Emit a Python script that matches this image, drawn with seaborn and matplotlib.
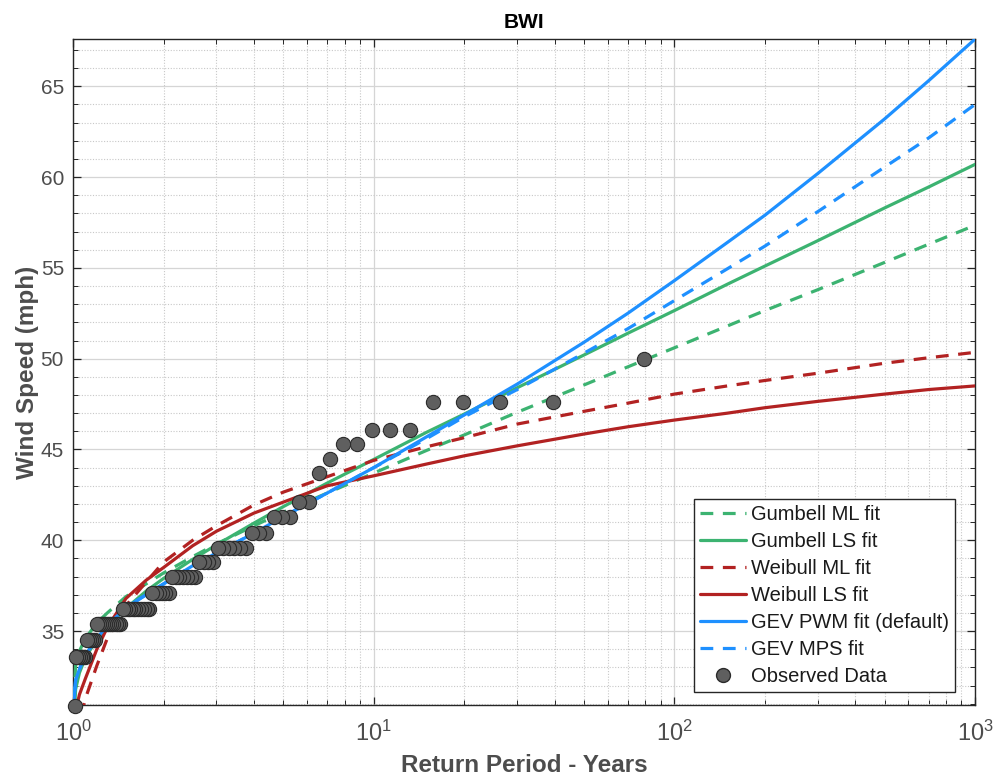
import numpy as np
import pandas as pd
import matplotlib
matplotlib.use("Agg")
import matplotlib.pyplot as plt
import seaborn as sns
from matplotlib.ticker import LogLocator, MultipleLocator, FuncFormatter, NullFormatter
from matplotlib.lines import Line2D

# Observed annual maxima at BWI: distinct speeds (mph) and number of years at each
obs_speed = [50.0, 47.6, 46.1, 45.3, 44.5, 43.7, 42.1, 41.3, 40.4, 39.6,
             38.8, 38.0, 37.1, 36.2, 35.4, 34.5, 33.6, 30.9]
obs_count = [1, 4, 3, 2, 1, 1, 2, 3, 3, 6, 4, 7, 6, 11, 12, 5, 6, 1]

# Fitted curves at these return periods (years)
return_period = [1.0, 1.02, 1.05, 1.1, 1.2, 1.3, 1.5, 1.75, 2, 2.5, 3, 4, 5, 7,
                 10, 15, 20, 30, 50, 70, 100, 150, 200, 300, 500, 700, 1000]
gumbel_ml = [30.0, 33.15, 33.9, 34.6, 35.45, 36.0, 36.9, 37.6, 38.2, 39.1, 39.8,
             40.8, 41.55, 42.6, 43.7, 44.95, 45.8, 47.05, 48.55, 49.55, 50.6,
             51.8, 52.65, 53.8, 55.3, 56.3, 57.35]
gumbel_ls = [29.0, 31.8, 32.7, 33.55, 34.55, 35.25, 36.25, 37.2, 37.9, 38.95, 39.75,
             40.95, 41.85, 43.15, 44.45, 45.95, 46.95, 48.4, 50.2, 51.4, 52.65,
             54.1, 55.1, 56.5, 58.3, 59.45, 60.7]
weibull_ml = [26.0, 28.5, 30.0, 31.3, 33.1, 34.6, 36.4, 37.7, 38.8, 40.0, 40.8,
              41.95, 42.65, 43.5, 44.4, 45.15, 45.65, 46.4, 47.1, 47.55, 48.05,
              48.5, 48.8, 49.2, 49.75, 50.05, 50.35]
weibull_ls = [29.5, 30.6, 31.5, 32.4, 34.0, 35.2, 36.8, 37.8, 38.5, 39.7, 40.5,
              41.5, 42.1, 43.0, 43.55, 44.2, 44.65, 45.2, 45.85, 46.25, 46.62,
              47.0, 47.3, 47.65, 48.05, 48.3, 48.5]
gev_pwm = [30.5, 32.3, 32.9, 33.7, 34.6, 35.3, 36.3, 37.0, 37.6, 38.6, 39.3,
           40.4, 41.3, 42.6, 44.0, 45.7, 46.9, 48.6, 50.9, 52.5, 54.3,
           56.4, 57.9, 60.2, 63.2, 65.3, 67.6]
gev_mps = [30.5, 32.3, 32.9, 33.7, 34.6, 35.3, 36.3, 37.0, 37.6, 38.6, 39.3,
           40.4, 41.3, 42.6, 44.0, 45.6, 46.8, 48.3, 50.3, 51.65, 53.2,
           54.95, 56.2, 58.1, 60.55, 62.15, 64.0]

fit_labels = ["Gumbell ML fit", "Gumbell LS fit", "Weibull ML fit", "Weibull LS fit",
              "GEV PWM fit (default)", "GEV MPS fit"]

# Weibull plotting positions for the observed data
speeds = np.repeat(obs_speed, obs_count)
n = len(speeds)
obs = pd.DataFrame({"T": (n + 1) / np.arange(1, n + 1), "speed": speeds})

sns.set_theme(style="ticks")
plt.rcParams["font.family"] = ["Liberation Sans", "DejaVu Sans"]
plt.rcParams["mathtext.fontset"] = "custom"
plt.rcParams["mathtext.rm"] = "Liberation Sans"

green = "#3cb371"
red = "#b22222"
blue = "#1e90ff"
dash = (4, 3)

fig = plt.figure(figsize=(9.95, 7.81), dpi=100)
ax = fig.add_axes([0.0734, 0.0973, 0.9066, 0.8527])

curves = [
    (gumbel_ml, green, True),
    (gumbel_ls, green, False),
    (weibull_ml, red, True),
    (weibull_ls, red, False),
    (gev_pwm, blue, False),
    (gev_mps, blue, True),
]
handles = []
for vals, col, dashed in curves:
    sns.lineplot(x=return_period, y=vals, ax=ax, color=col, linewidth=2.3,
                 sort=False, zorder=3)
    line = ax.get_lines()[-1]
    h = Line2D([], [], color=col, linewidth=2.3)
    if dashed:
        line.set_dashes(dash)
        h.set_dashes(dash)
    handles.append(h)

sns.scatterplot(data=obs, x="T", y="speed", ax=ax, s=105, color="#5f5f5f",
                edgecolor="#2b2b2b", linewidth=0.8, zorder=5, clip_on=False)
handles.append(Line2D([], [], linestyle="none", marker="o", markersize=10,
                      markerfacecolor="#5f5f5f", markeredgecolor="#2b2b2b"))

ax.set_xscale("log")
ax.set_xlim(1, 1000)
ax.set_ylim(30.93, 67.6)

ax.xaxis.set_major_locator(LogLocator(base=10, numticks=10))
ax.xaxis.set_minor_locator(LogLocator(base=10, subs=np.arange(2, 10), numticks=30))
ax.xaxis.set_minor_formatter(NullFormatter())
ax.xaxis.set_major_formatter(FuncFormatter(lambda v, p: r"$\mathregular{10^{%d}}$" % round(np.log10(v))))
ax.yaxis.set_major_locator(MultipleLocator(5))
ax.yaxis.set_minor_locator(MultipleLocator(1))

ax.grid(which="major", color="#d5d5d5", linewidth=0.9, linestyle="-")
ax.grid(which="minor", color="#c8c8c8", linewidth=0.8, linestyle=(0, (1, 1.5)))
ax.set_axisbelow(True)

ax.tick_params(which="both", direction="in", top=True, right=True, colors="#262626",
               labelcolor="#4d4d4d")
ax.tick_params(axis="y", labelsize=15, pad=6.5)
ax.tick_params(axis="x", labelsize=17, pad=11)
ax.tick_params(which="major", length=6, width=0.9)
ax.tick_params(which="minor", length=3.5, width=0.7)
for s in ax.spines.values():
    s.set_color("#262626")
    s.set_linewidth(1.0)

ax.set_xlabel("Return Period - Years", fontsize=17.5, fontweight="bold", color="#4d4d4d", labelpad=6)
ax.set_ylabel("Wind Speed (mph)", fontsize=17.5, fontweight="bold", color="#4d4d4d", labelpad=1)
ax.set_title("BWI", fontsize=15, fontweight="bold", color="black", pad=8)

leg = ax.legend(handles, fit_labels + ["Observed Data"], loc="lower right",
                bbox_to_anchor=(0.978, 0.0195), borderaxespad=0, fontsize=14.5,
                frameon=True, fancybox=False, edgecolor="#262626", handlelength=2.3,
                handletextpad=0.25, labelspacing=0.4, borderpad=0.3, framealpha=1)
leg.get_frame().set_linewidth(1.0)
for t in leg.get_texts():
    t.set_color("#1a1a1a")

fig.savefig("out.png", dpi=100)
